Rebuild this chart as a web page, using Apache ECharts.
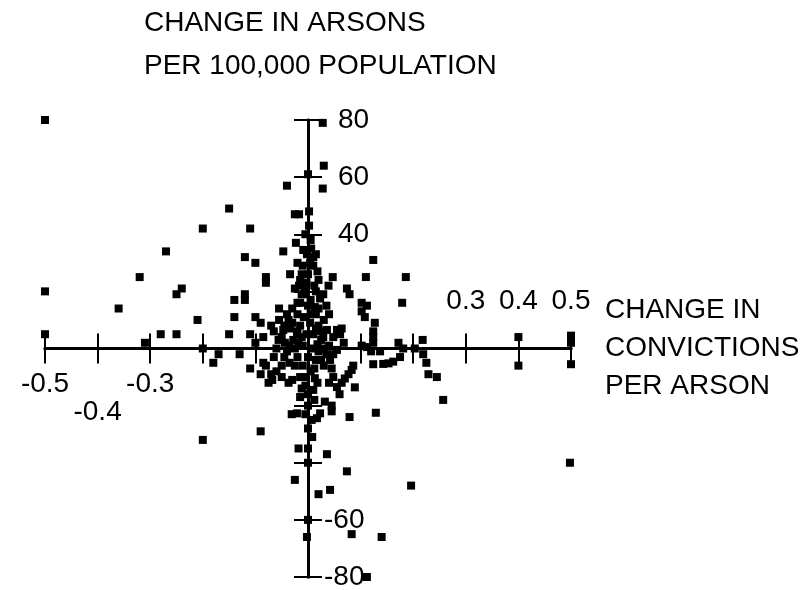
<!DOCTYPE html>
<html>
<head>
<meta charset="utf-8">
<script src="https://cdn.jsdelivr.net/npm/echarts@6/dist/echarts.min.js"></script>
<style>
html, body { margin: 0; background: #fff; }
#chart { width: 809px; height: 590px; }
</style>
</head>
<body>
<div id="chart"></div>
<script>
// change in convictions per arson (x) and change in arsons per 100,000 (y)
var convX = [
    -0.50, -0.50, -0.50, -0.36, -0.32, -0.31, -0.27, -0.28, -0.25, -0.25,
    -0.24, -0.20, -0.21, -0.20, -0.18, -0.17, -0.20, -0.15, -0.11, -0.15,
    -0.14, -0.14, -0.12, -0.12, -0.12, -0.10, -0.13, -0.11, -0.11, -0.10,
    -0.10, -0.09, -0.085, -0.08, -0.08, -0.07, -0.065, -0.085, -0.08, -0.09,
    -0.07, -0.075, -0.068, -0.06, -0.05, -0.05, -0.035, -0.03, -0.037, -0.09,
    -0.065, -0.04, -0.025, -0.017, -0.023, -0.047, -0.034, -0.012, -0.025, -0.017,
    -0.055, -0.015, -0.055, -0.037, -0.034, -0.047, -0.056, -0.05, -0.044, -0.028,
    -0.021, -0.012, -0.012, -0.006, 0.0, 0.002, 0.002, -0.002, 0.004, 0.0,
    -0.003, -0.006, 0.0, -0.008, 0.004, -0.003, 0.01, 0.01, 0.006, -0.009,
    -0.02, 0.015, 0.02, -0.015, 0.01, 0.025, -0.025, -0.01, 0.01, 0.02,
    -0.02, 0.0, 0.015, -0.01, 0.005, -0.015, -0.005, 0.0, -0.015, 0.0,
    0.007, 0.015, -0.005, 0.005, -0.03, 0.03, -0.04, 0.035, 0.028, 0.03,
    0.028, 0.124, 0.11, 0.186, 0.179, 0.047, 0.039, 0.029, 0.023, 0.013,
    0.074, 0.079, 0.102, 0.112, 0.102, 0.108, 0.127, 0.124, 0.124, 0.124,
    0.055, 0.064, 0.036, 0.029, 0.048, 0.061, 0.04, 0.03, 0.068, 0.102,
    0.112, 0.12, 0.137, 0.172, 0.181, 0.175, 0.162, 0.153, 0.218, 0.203,
    0.219, 0.225, 0.124, 0.143, 0.229, 0.245, 0.257, 0.40, 0.40, 0.50,
    0.50, 0.50, 0.498, 0.048, 0.055, 0.042, 0.086, 0.083, 0.077, 0.070,
    0.064, 0.055, 0.048, 0.04, 0.06, 0.089, 0.013, 0.01, 0.032, 0.045,
    0.045, 0.017, 0.023, 0.079, 0.129, -0.031, -0.021, -0.018, 0.0, 0.036,
    0.0, 0.074, -0.025, 0.02, 0.042, 0.196, 0.0, -0.002, 0.083, 0.14,
    0.112,
    // dense middle column
    0.015, 0.018, -0.01, 0.02, -0.015, 0.012, 0.02, -0.02, 0.005, 0.015,
    -0.02, 0.025, -0.03, 0.005, 0.018, -0.018, 0.03, -0.035, 0.025, -0.025,
    0.012, -0.005, 0.018, -0.012, 0.012, -0.005, 0.0, 0.008, -0.045, -0.04,
    0.04, 0.035, -0.045, -0.06, 0.045, -0.02
];
var arsonY = [
    80, 20, 5, 14, 25, 2, 34, 5, 5, 19,
    21, 42, 10, 0, -5, -2, -32, 49, 42, 5,
    17, 11, 19, 17, 32, 30, -2, -7, 5, 2,
    11, 9, 4, 25, 23, 8, 6, -5, -6, -9,
    -9, -12, -11, -8, -6, -10, -5, -11, -12, -29,
    -3, 57, 47, 47, 37, 34, 26, 26, 21, 22,
    14, 16, 10, 10, 7, 6.5, 3, 4, 2, 3,
    5, 4, 19, 21, 61, 48, 43, 33, 30, 26,
    23, 19, 15, 11, 9, 5, 32, 29, 35, 34.5,
    12, 12, 8, 8, 5, 3, 0, 1, 0, -1,
    -3, -3, -4, -6, -8, -10, -13, -16, -17, -20,
    -25, 20, 40, 38, 14, 10, -1, -2, 79, 64,
    56, 31, 25, 25, 16, 25, 22, 19, 17.5, 14.5,
    21, 19, 16, 15, 13, 11, 9, 6, 4, 2,
    6.5, 7, 6.5, 4, 4, 5, 1, -6, 2, 1,
    0.5, -1, -1, 2, 0, -3, -4.6, -5.2, 3, 0,
    -2, -5, -5.5, -5.4, -9, -10, -18, 4, -6, 4.5,
    2, -5.5, -40, -2, -0.5, -4, -6, -7.5, -9, -10.5,
    -12, -13.5, -10, -12, -16, -13.6, -10.4, -14.5, -18.6, -20,
    -22, -24.4, -22.7, -24, -22.5, -23, -22.7, -35, -35, -37,
    -40, -43, -46, -51, -49.5, -48, -60, -66, -65, -66,
    -80,
    33, 27, 29, 24, 24, 22, 14, 16, 17, 7,
    6, 6, 9, 12, 1.5, 2, 0, 1, -4, -6,
    -7, -10, -12, -14, -18, -23, -28, -31, 8, 12,
    12, 15, -3, 0, -7, 30
];

var xLabelsBelow = ['-0.5', '-0.4', '-0.3'];
var xLabelsLowered = ['-0.4'];
var xLabelsAbove = ['0.3', '0.4', '0.5'];
var yLabels = ['80', '60', '40', '-60', '-80'];
var titleLines = ['CHANGE IN ARSONS', 'PER 100,000 POPULATION'];
var xNameLines = ['CHANGE IN', 'CONVICTIONS', 'PER ARSON'];

var font = 'Liberation Sans';

var points = convX.map(function (x, i) { return [x, arsonY[i]]; });

function xText(v) {
    return (Math.round(v * 10) / 10).toFixed(1);
}

// grid is 526 x 457 px, so the zero lines sit half way: move the edge axes there
var xShift = -228.5;
var yShift = -263;

var axisLineStyle = { color: '#000', width: 3 };
var tickStyle = { color: '#000', width: 2 };

var myChart = echarts.init(document.getElementById('chart'));

var option = {
    backgroundColor: '#fff',
    animation: false,
    title: [
        {
            text: titleLines.join('\n'),
            left: 139,
            top: -3,
            textStyle: { fontFamily: font, fontSize: 28, fontWeight: 'normal', color: '#000', lineHeight: 43 }
        },
        {
            text: xNameLines.join('\n'),
            left: 600,
            top: 286,
            textStyle: { fontFamily: font, fontSize: 28, fontWeight: 'normal', color: '#000', lineHeight: 38 }
        }
    ],
    grid: {
        left: 45,
        right: 238,
        top: 120,
        bottom: 13,
        containLabel: false,
        outerBoundsMode: 'none'
    },
    xAxis: [
        {
            type: 'value',
            position: 'bottom',
            offset: xShift,
            min: -0.5,
            max: 0.5,
            interval: 0.1,
            splitLine: { show: false },
            axisLine: { show: true, onZero: false, lineStyle: axisLineStyle },
            axisTick: { show: true, length: 15, lineStyle: tickStyle },
            axisLabel: {
                show: true,
                showMinLabel: true,
                showMaxLabel: true,
                hideOverlap: false,
                margin: 22,
                color: '#000',
                fontFamily: font,
                fontSize: 28,
                formatter: function (v) {
                    var t = xText(v);
                    if (xLabelsBelow.indexOf(t) < 0) return '';
                    if (xLabelsLowered.indexOf(t) >= 0) return '{low|' + t + '}';
                    return t;
                },
                rich: {
                    low: { fontFamily: font, fontSize: 28, color: '#000', padding: [28, 0, 0, 0] }
                }
            }
        },
        {
            type: 'value',
            position: 'top',
            offset: xShift,
            min: -0.5,
            max: 0.5,
            interval: 0.1,
            splitLine: { show: false },
            axisLine: { show: true, onZero: false, lineStyle: axisLineStyle },
            axisTick: { show: true, length: 15, lineStyle: tickStyle },
            axisLabel: {
                show: true,
                showMinLabel: true,
                showMaxLabel: true,
                hideOverlap: false,
                margin: 33,
                color: '#000',
                fontFamily: font,
                fontSize: 28,
                formatter: function (v) {
                    var t = xText(v);
                    return xLabelsAbove.indexOf(t) >= 0 ? t : '';
                }
            }
        }
    ],
    yAxis: [
        {
            type: 'value',
            position: 'left',
            offset: yShift,
            min: -80,
            max: 80,
            interval: 20,
            splitLine: { show: false },
            axisLine: { show: true, onZero: false, lineStyle: axisLineStyle },
            axisTick: { show: true, length: 14, lineStyle: tickStyle },
            axisLabel: { show: false }
        },
        {
            type: 'value',
            position: 'right',
            offset: yShift,
            min: -80,
            max: 80,
            interval: 20,
            splitLine: { show: false },
            axisLine: { show: true, onZero: false, lineStyle: axisLineStyle },
            axisTick: { show: true, length: 14, lineStyle: tickStyle },
            axisLabel: {
                show: true,
                showMinLabel: true,
                showMaxLabel: true,
                hideOverlap: false,
                margin: 16,
                color: '#000',
                fontFamily: font,
                fontSize: 28,
                formatter: function (v) {
                    var t = String(v);
                    if (yLabels.indexOf(t) < 0) return '';
                    return v < 0 ? t : '{p|' + t + '}';
                },
                rich: {
                    p: { fontFamily: font, fontSize: 28, color: '#000', padding: [0, 0, 0, 14] }
                }
            }
        }
    ],
    series: [
        {
            type: 'scatter',
            xAxisIndex: 0,
            yAxisIndex: 0,
            symbol: 'rect',
            symbolSize: 8,
            clip: false,
            itemStyle: { color: '#000', opacity: 1 },
            data: points
        }
    ]
};

myChart.setOption(option);
</script>
</body>
</html>
